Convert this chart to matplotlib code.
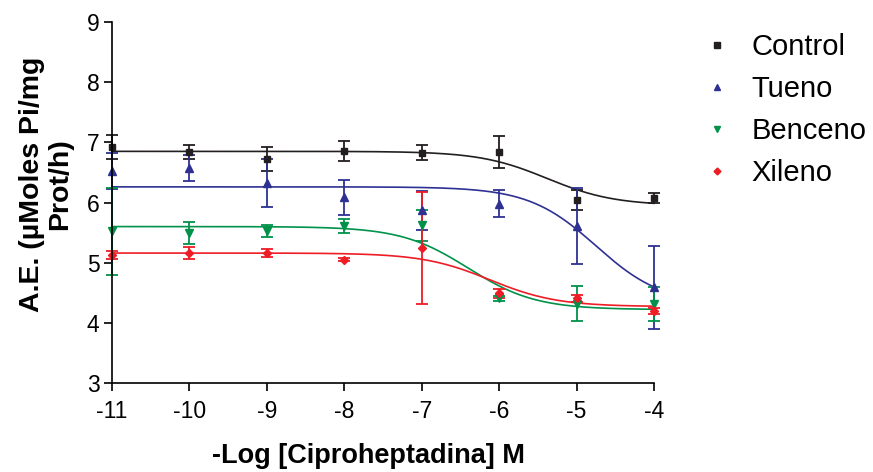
import numpy as np
import matplotlib
matplotlib.use("Agg")
import matplotlib.pyplot as plt

plt.rcParams['font.family'] = ['Liberation Sans', 'DejaVu Sans']
plt.rcParams['axes.unicode_minus'] = False

# -Log [Ciproheptadina] M
log_conc = [-11, -10, -9, -8, -7, -6, -5, -4]

series_names = ['Control', 'Tueno', 'Benceno', 'Xileno']

control = [6.92, 6.84, 6.72, 6.86, 6.83, 6.84, 6.04, 6.08]
control_err = [0.20, 0.11, 0.20, 0.17, 0.13, 0.27, 0.16, 0.08]
tueno = [6.53, 6.57, 6.32, 6.09, 5.87, 5.98, 5.61, 4.59]
tueno_err = [0.30, 0.22, 0.40, 0.29, 0.32, 0.22, 0.63, 0.69]
benceno = [5.52, 5.49, 5.53, 5.61, 5.62, 4.41, 4.32, 4.31]
benceno_err = [0.72, 0.18, 0.10, 0.11, 0.26, 0.04, 0.29, 0.28]
xileno = [5.13, 5.16, 5.16, 5.05, 5.25, 4.49, 4.41, 4.20]
xileno_err = [0.07, 0.10, 0.06, 0.02, 0.93, 0.08, 0.06, 0.05]

# sigmoidal fit parameters (top, bottom, logEC50)
fit_top = [6.85, 6.26, 5.60, 5.16]
fit_bottom = [5.95, 4.30, 4.22, 4.27]
fit_logec50 = [-5.38, -4.75, -6.40, -6.12]

colors = ['#231f20', '#2e3192', '#00924a', '#ee1c25']
markers = ['s', '^', 'v', 'D']
msizes = [5, 6, 6, 4.5]

means = [control, tueno, benceno, xileno]
errs = [control_err, tueno_err, benceno_err, xileno_err]

fig = plt.figure(figsize=(8.73, 4.72), dpi=100)
ax = fig.add_axes([112/873, 89/472, 542/873, 361/472])

xs = np.linspace(-11, -4, 300)
for i in range(len(series_names)):
    curve = fit_bottom[i] + (fit_top[i] - fit_bottom[i]) / (1 + 10 ** (xs - fit_logec50[i]))
    ax.plot(xs, curve, color=colors[i], lw=1.2, clip_on=False, zorder=3)
    ax.errorbar(log_conc, means[i], yerr=errs[i], fmt='none', ecolor=colors[i],
                elinewidth=1.3, capsize=4.5, capthick=1.3, clip_on=False, zorder=4)
    ax.plot(log_conc, means[i], ls='none', marker=markers[i], ms=msizes[i],
            color=colors[i], clip_on=False, zorder=5)

ax.set_xlim(-11, -4)
ax.set_ylim(3, 9)
ax.set_xticks(range(-11, -3))
ax.set_yticks(range(3, 10))
for side in ['top', 'right']:
    ax.spines[side].set_visible(False)
for side in ['left', 'bottom']:
    ax.spines[side].set_linewidth(1.2)
    ax.spines[side].set_zorder(6)
ax.tick_params(direction='out', length=6, width=1.2, labelsize=16.5, pad=3)
ax.tick_params(axis='x', pad=6)

ax.set_xlabel('-Log [Ciproheptadina] M', fontsize=19.5, fontweight='bold')
ax.xaxis.set_label_coords(0.474, -0.165)
ax.set_ylabel('A.E. (µMoles Pi/mg\nProt/h)', fontsize=20.5, fontweight='bold',
              multialignment='center', linespacing=1.12)
ax.yaxis.set_label_coords(-0.072, 0.55)

leg_handles = []
for i in range(len(series_names)):
    lh, = ax.plot([], [], ls='none', marker=markers[i], ms=msizes[i] - 1, color=colors[i])
    leg_handles.append(lh)
fig.legend(leg_handles, series_names, loc='upper left', bbox_to_anchor=(705/873, 1 - 33/472),
           frameon=False, fontsize=21, handlelength=0.8, handletextpad=0.8,
           labelspacing=0.48, borderpad=0, borderaxespad=0)

fig.savefig('out.png', dpi=100)
